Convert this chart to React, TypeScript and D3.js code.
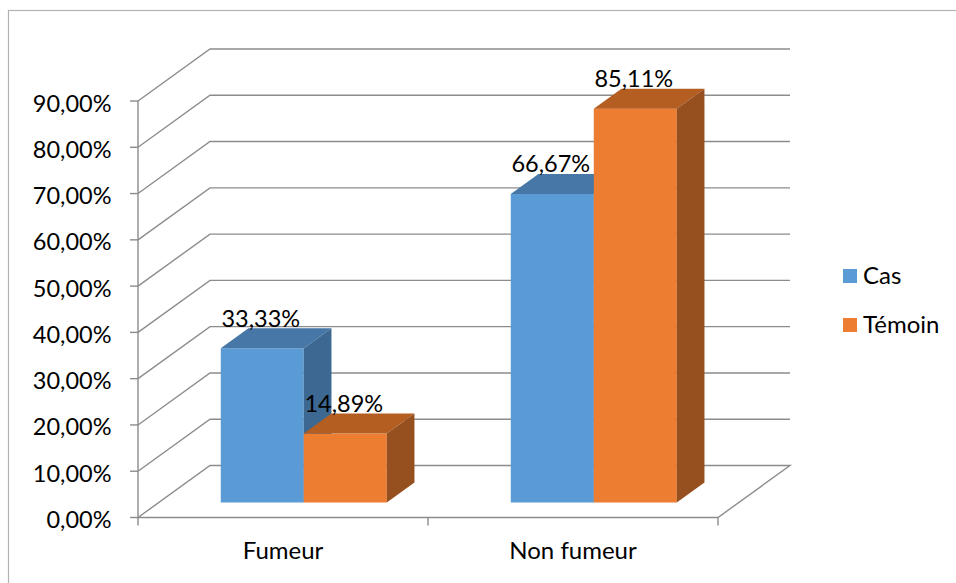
import React from "react";
import * as d3 from "d3";

// Chart data
const categories = ["Fumeur", "Non fumeur"];
const seriesNames = ["Cas", "Témoin"];
const casValues = [0.3333, 0.6667];
const temoinValues = [0.1489, 0.8511];
const yTicks = [0, 0.1, 0.2, 0.3, 0.4, 0.5, 0.6, 0.7, 0.8, 0.9];

const W = 956;
const H = 583;

// Colours of the three visible faces for each series
const faceColors: Record<string, { front: string; top: string; side: string }> = {
  Cas: { front: "#5B9BD5", top: "#4677A6", side: "#3C6891" },
  Témoin: { front: "#ED7D31", top: "#B45E22", side: "#964F1E" },
};

const FONT = "Lato, 'Open Sans', sans-serif";
const FS = 23.5;
const fmtPct = (v: number) => (v * 100).toFixed(2).replace(".", ",") + "%";

export default function App() {
  // front plane of the plot
  const x0 = 138;
  const x1 = 718;
  const y = d3.scaleLinear().domain([0, 0.9]).range([517.5, 101]);
  const xCat = d3.scaleBand<string>().domain(categories).range([x0, x1]).padding(0);
  const xSer = d3
    .scaleBand<string>()
    .domain(seriesNames)
    .range([0, xCat.bandwidth()])
    .paddingInner(0)
    .paddingOuter(0.747);

  // depth of the box (floor / walls) and of the bars inside it
  const depthX = 72;
  const depthY = -52;
  const barT0 = 15 / 52; // bar front plane as a fraction of the box depth
  const barT1 = 35 / 52; // bar back plane
  const bfx = depthX * barT0;
  const bfy = depthY * barT0;
  const bdx = depthX * (barT1 - barT0);
  const bdy = depthY * (barT1 - barT0);

  const gridColor = "#8c8c8c";
  const backRight = 790;

  const rows = categories.map((c, i) => ({
    category: c,
    values: [
      { series: "Cas", value: casValues[i] },
      { series: "Témoin", value: temoinValues[i] },
    ],
  }));

  const bars: React.ReactNode[] = [];
  const labels: React.ReactNode[] = [];
  rows.forEach((row) => {
    row.values.forEach((d) => {
      const left = (xCat(row.category) as number) + (xSer(d.series) as number) + bfx;
      const w = xSer.bandwidth();
      const top = y(d.value) + bfy;
      const bottom = y(0) + bfy;
      const c = faceColors[d.series];
      const key = row.category + d.series;
      bars.push(
        <g key={key}>
          <rect x={left} y={top} width={w} height={bottom - top} fill={c.front} />
          <polygon
            points={`${left},${top} ${left + bdx},${top + bdy} ${left + w + bdx},${top + bdy} ${left + w},${top}`}
            fill={c.top}
          />
          <polygon
            points={`${left + w},${top} ${left + w + bdx},${top + bdy} ${left + w + bdx},${bottom + bdy} ${left + w},${bottom}`}
            fill={c.side}
          />
        </g>
      );
      labels.push(
        <text
          key={"l" + key}
          x={left + w / 2 - 1.5}
          y={top + bdy - 1.5}
          textAnchor="middle"
          fontSize={FS}
          fontFamily={FONT}
          fill="#000"
        >
          {fmtPct(d.value)}
        </text>
      );
    });
  });

  return (
    <svg
      width={W}
      height={H}
      style={{ position: "absolute", left: 0, top: 0, background: "#fff" }}
    >
      <rect x={0} y={0} width={W} height={H} fill="#fff" />
      {/* chart frame */}
      <rect x={8.5} y={10.5} width={W + 20} height={H + 20} fill="none" stroke="#b3b3b3" strokeWidth={1.2} />

      {/* gridlines on the left and back walls */}
      {yTicks.slice(1).map((t) => (
        <polyline
          key={"g" + t}
          points={`${x0},${y(t)} ${x0 + depthX},${y(t) + depthY} ${backRight},${y(t) + depthY}`}
          fill="none"
          stroke={gridColor}
          strokeWidth={1.4}
        />
      ))}
      {/* floor */}
      <polygon
        points={`${x0},${y(0)} ${x0 + depthX},${y(0) + depthY} ${backRight},${y(0) + depthY} ${x1},${y(0)}`}
        fill="none"
        stroke={gridColor}
        strokeWidth={1.4}
      />

      {/* value axis */}
      <line x1={x0} y1={y(0)} x2={x0} y2={y(0.9)} stroke={gridColor} strokeWidth={1.4} />
      {yTicks.map((t) => (
        <g key={"t" + t}>
          <line x1={x0 - 8} y1={y(t)} x2={x0} y2={y(t)} stroke={gridColor} strokeWidth={1.4} />
          <text x={111.5} y={y(t) + 10.5} textAnchor="end" fontSize={FS} fontFamily={FONT} fill="#000">
            {fmtPct(t)}
          </text>
        </g>
      ))}

      {/* category axis ticks and labels */}
      {[x0, ...categories.map((c) => (xCat(c) as number) + xCat.bandwidth())].map((xx, i) => (
        <line key={"ct" + i} x1={xx} y1={y(0)} x2={xx} y2={y(0) + 8} stroke={gridColor} strokeWidth={1.4} />
      ))}
      {categories.map((c) => (
        <text
          key={"c" + c}
          x={(xCat(c) as number) + xCat.bandwidth() / 2}
          y={559}
          textAnchor="middle"
          fontSize={24}
          fontFamily={FONT}
          fill="#000"
        >
          {c}
        </text>
      ))}

      {bars}
      {labels}

      {/* legend */}
      {seriesNames.map((s, i) => (
        <g key={"lg" + s} transform={`translate(843, ${269 + i * 49})`}>
          <rect x={0} y={0} width={14} height={14} fill={faceColors[s].front} />
          <text x={20} y={15} fontSize={24} fontFamily={FONT} fill="#000">
            {s}
          </text>
        </g>
      ))}
    </svg>
  );
}
